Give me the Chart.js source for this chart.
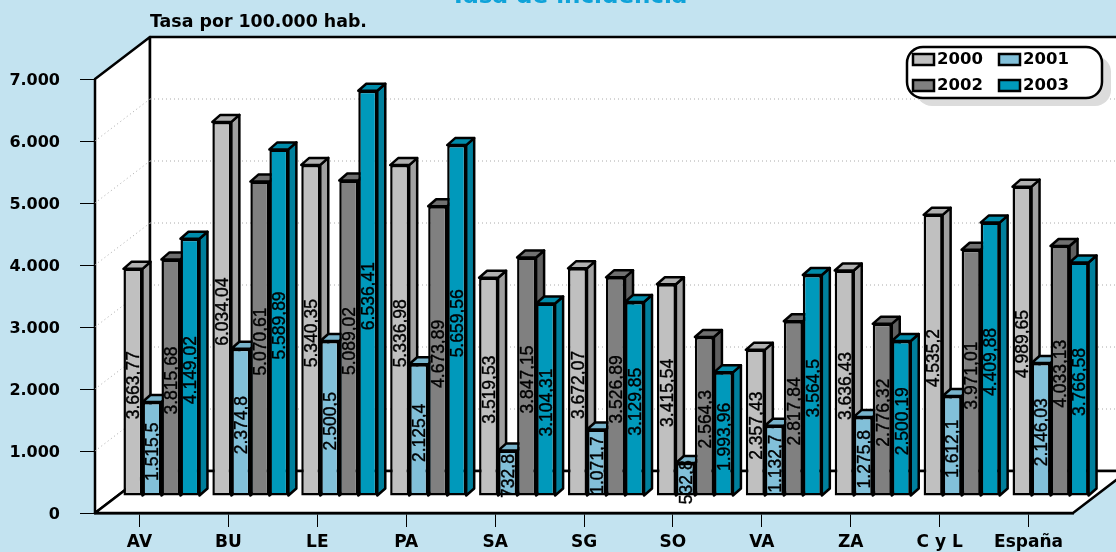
<!DOCTYPE html>
<html>
<head>
<meta charset="utf-8">
<title>Tasa de incidencia</title>
<script src="https://cdn.jsdelivr.net/npm/chart.js@4"></script>
<style>
    html, body { margin: 0; padding: 0; background: #c3e3f0; overflow: hidden; }
    canvas { display: block; }
</style>
</head>
<body>
<canvas id="chart" width="1116" height="552"></canvas>
<script>
// datos
const categories = ['AV', 'BU', 'LE', 'PA', 'SA', 'SG', 'SO', 'VA', 'ZA', 'C y L', 'España'];
const serie2000 = [3663.77, 6034.04, 5340.35, 5336.98, 3519.53, 3672.07, 3415.54, 2357.43, 3636.43, 4535.2, 4989.65];
const serie2001 = [1515.5, 2374.8, 2500.5, 2125.4, 732.8, 1071.7, 532.8, 1132.7, 1275.8, 1612.1, 2146.03];
const serie2002 = [3815.68, 5070.61, 5089.02, 4673.89, 3847.15, 3526.89, 2564.3, 2817.84, 2776.32, 3971.01, 4033.13];
const serie2003 = [4149.02, 5589.89, 6536.41, 5659.56, 3104.31, 3129.85, 1993.96, 3564.5, 2500.19, 4409.88, 3766.58];
const years = ['2000', '2001', '2002', '2003'];

const fills = ['#c0c0c0', '#82c0d9', '#808080', '#0099bb'];
const sides = ['#a0a0a0', '#6ba5bd', '#606060', '#007f9c'];
const tops = ['#b0b0b0', '#78b4cc', '#707070', '#008cab'];

const FONT_BOLD = '"DejaVu Sans", sans-serif';
const WALL_DX = 55, WALL_DY = 42;    // fondo del grafico 3D
const BAR_DX = 22, BAR_DY = 17;      // plano frontal de las barras
const SIDE_DX = 8, SIDE_DY = 7;      // profundidad de cada barra

// 1.515,5 -> separador de miles con punto y decimales con coma
function formatEs(v) {
    const parts = String(v).split('.');
    const miles = parts[0].replace(/\B(?=(\d{3})+$)/g, '.');
    return parts[1] ? miles + ',' + parts[1] : miles;
}

function line(ctx, x1, y1, x2, y2) {
    ctx.beginPath();
    ctx.moveTo(x1, y1);
    ctx.lineTo(x2, y2);
    ctx.stroke();
}

function poly(ctx, pts, fill, stroke, lw) {
    ctx.beginPath();
    pts.forEach((p, i) => i ? ctx.lineTo(p[0], p[1]) : ctx.moveTo(p[0], p[1]));
    ctx.closePath();
    if (fill) { ctx.fillStyle = fill; ctx.fill(); }
    if (stroke) { ctx.strokeStyle = stroke; ctx.lineWidth = lw; ctx.lineJoin = 'round'; ctx.stroke(); }
}

const box3d = {
    id: 'box3d',
    beforeDatasetsDraw(chart) {
        const { ctx, chartArea: a, scales } = chart;
        const y = scales.y;
        const floor = y.getPixelForValue(0), top = y.getPixelForValue(7000);
        const backL = a.left + WALL_DX, backR = a.right + WALL_DX;

        ctx.save();
        // paredes y suelo
        poly(ctx, [[a.left, top], [backL, top - WALL_DY], [backL, floor - WALL_DY], [a.left, floor]], '#fff', '#000', 2.5);
        poly(ctx, [[backL, top - WALL_DY], [backR, top - WALL_DY], [backR, floor - WALL_DY], [backL, floor - WALL_DY]], '#fff', '#000', 2.5);
        poly(ctx, [[a.left, floor], [backL, floor - WALL_DY], [backR, floor - WALL_DY], [a.right, floor]], '#fff', '#000', 2.5);

        // lineas de division punteadas
        ctx.strokeStyle = '#aaa';
        ctx.lineWidth = 1;
        ctx.setLineDash([1, 3]);
        y.ticks.forEach(t => {
            if (t.value === 0 || t.value === 7000) return;
            const py = y.getPixelForValue(t.value);
            line(ctx, a.left, py, backL, py - WALL_DY);
            line(ctx, backL, py - WALL_DY, backR, py - WALL_DY);
        });
        ctx.restore();
    },
    // el orden de pintado de la libreria deja 2000 encima; se pinta abajo en orden de serie
    beforeDatasetDraw() {
        return false;
    },
    afterDatasetsDraw(chart) {
        const { ctx } = chart;
        ctx.save();
        // las barras van adelantadas respecto al fondo
        ctx.translate(BAR_DX, -BAR_DY);
        chart.data.datasets.forEach((ds, i) => {
            chart.getDatasetMeta(i).data.forEach(bar => {
                const half = bar.width / 2;
                const l = bar.x - half, r = bar.x + half, t = bar.y, b = bar.base;
                poly(ctx, [[r, t], [r + SIDE_DX, t - SIDE_DY], [r + SIDE_DX, b - SIDE_DY], [r, b]], sides[i], '#000', 2.5);
                poly(ctx, [[l, t], [l + SIDE_DX, t - SIDE_DY], [r + SIDE_DX, t - SIDE_DY], [r, t]], tops[i], '#000', 2.5);
                bar.draw(ctx);
            });
        });

        // etiquetas giradas en el centro de cada barra
        ctx.fillStyle = '#000';
        ctx.strokeStyle = '#000';
        ctx.lineWidth = 0.4;
        ctx.font = '17.5px "Liberation Sans", Arial, sans-serif';
        ctx.textAlign = 'center';
        ctx.textBaseline = 'middle';
        chart.data.datasets.forEach((ds, i) => {
            chart.getDatasetMeta(i).data.forEach((bar, j) => {
                ctx.save();
                ctx.translate(bar.x + 1.5, (bar.y + bar.base) / 2 + 3);
                ctx.rotate(-Math.PI / 2);
                ctx.fillText(formatEs(ds.data[j]), 0, 0);
                ctx.strokeText(formatEs(ds.data[j]), 0, 0);
                ctx.restore();
            });
        });
        ctx.restore();
    },
    afterDraw(chart) {
        const { ctx } = chart;
        ctx.save();
        // titulo (queda cortado por arriba) y unidad
        ctx.textBaseline = 'alphabetic';
        ctx.textAlign = 'center';
        ctx.fillStyle = '#0fa3d9';
        ctx.font = 'bold 23px ' + FONT_BOLD;
        ctx.fillText('Tasa de incidencia', 569, 3);
        ctx.textAlign = 'left';
        ctx.fillStyle = '#000';
        ctx.font = 'bold 17.4px ' + FONT_BOLD;
        ctx.fillText('Tasa por 100.000 hab.', 150, 27);

        // leyenda
        ctx.fillStyle = '#dcdcdc';
        ctx.beginPath();
        ctx.roundRect(916, 56, 195, 50, 16);
        ctx.fill();
        ctx.fillStyle = '#fff';
        ctx.strokeStyle = '#000';
        ctx.lineWidth = 2.5;
        ctx.beginPath();
        ctx.roundRect(907, 47, 195, 51, 16);
        ctx.fill();
        ctx.stroke();
        ctx.font = 'bold 16.5px ' + FONT_BOLD;
        ctx.textBaseline = 'middle';
        chart.data.datasets.forEach((ds, i) => {
            const lx = 913 + (i % 2) * 86, ly = 54 + Math.floor(i / 2) * 26;
            ctx.fillStyle = fills[i];
            ctx.fillRect(lx, ly, 21, 11);
            ctx.strokeRect(lx, ly, 21, 11);
            ctx.fillStyle = '#000';
            ctx.fillText(ds.label, lx + 24, ly + 6);
        });
        ctx.restore();
    }
};

new Chart(document.getElementById('chart'), {
    type: 'bar',
    data: {
        labels: categories,
        datasets: [serie2000, serie2001, serie2002, serie2003].map((values, i) => ({
            label: years[i],
            data: values,
            backgroundColor: fills[i],
            borderColor: '#000',
            borderWidth: 2.5,
            borderSkipped: false,
            clip: false
        }))
    },
    options: {
        responsive: false,
        animation: false,
        devicePixelRatio: 1,
        layout: { padding: { top: 79, right: 43, bottom: 0, left: 0 } },
        categoryPercentage: 0.855,
        barPercentage: 1,
        plugins: { legend: { display: false }, tooltip: { enabled: false } },
        scales: {
            x: {
                afterFit(scale) { scale.height = 39; },
                border: { color: '#000', width: 2.5 },
                grid: { drawOnChartArea: false, offset: false, tickLength: 14, tickColor: '#000', tickWidth: 1 },
                ticks: { color: '#000', font: { family: FONT_BOLD, weight: 'bold', size: 17 }, padding: 5, maxRotation: 0, autoSkip: false }
            },
            y: {
                min: 0,
                max: 7000,
                afterFit(scale) { scale.width = 95; },
                // baja las etiquetas 2px: DejaVu queda alta con baseline middle
                afterUpdate(scale) {
                    if (scale.labelsShifted) return;
                    scale.labelsShifted = true;
                    const drawLabels = scale.drawLabels;
                    scale.drawLabels = function(area) {
                        this.ctx.save();
                        this.ctx.translate(0, 2);
                        drawLabels.call(this, area);
                        this.ctx.restore();
                    };
                },
                border: { color: '#000', width: 2.5 },
                grid: { drawOnChartArea: false, tickLength: 15, tickColor: '#000', tickWidth: 1 },
                ticks: {
                    stepSize: 1000,
                    color: '#000',
                    padding: 20,
                    font: { family: FONT_BOLD, weight: 'bold', size: 16 },
                    callback: v => formatEs(v)
                }
            }
        }
    },
    plugins: [box3d]
});
</script>
</body>
</html>
